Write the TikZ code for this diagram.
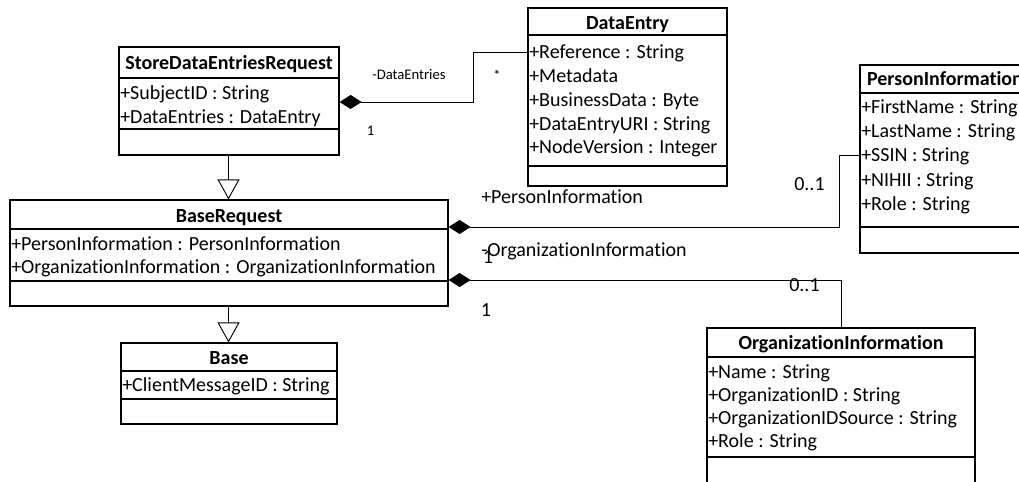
\documentclass[tikz,border=0pt]{standalone}
\usepackage{fontspec}
\setmainfont{Carlito}[Ligatures=NoCommon]
\usetikzlibrary{arrows.meta,fit}

% class box: name, left, top, right, bottom, first separator, second separator
\newcommand\umlbox[7]{%
  \node[box, fit={(#2,#3) (#4,#5)}] (#1) {};
  \draw[sep] (#1.west |- 0,#6) -- (#1.east |- 0,#6);
  \draw[sep] (#1.west |- 0,#7) -- (#1.east |- 0,#7);}

\begin{document}
\begin{tikzpicture}[x=0.75pt,y=-0.75pt,
  box/.style={draw, line width=0.9pt, inner sep=0pt},
  sep/.style={line width=0.9pt},
  txt/.style={inner sep=0pt, text height=9.5pt, text depth=0pt,
    font=\fontsize{15}{18}\selectfont},
  ttl/.style={txt, font=\fontsize{15}{18}\selectfont\bfseries},
  attr/.style={txt, anchor=west},
  small/.style={inner sep=0pt, text height=6.95pt, text depth=0pt,
    font=\fontsize{11}{13}\selectfont},
  link/.style={line width=0.7pt},
  comp/.style={link, {Diamond[length=16.5pt,width=10.5pt]}-},
  inherit/.style={link, -{Triangle[open,length=15pt,width=16.5pt]}}]

\clip (0,0) rectangle (1019,481);
\fill[white] (0,0) rectangle (1019,481);

% ---------- classes ----------
\umlbox{sder}{119}{47}{339}{155}{78}{129}
\node[ttl] (sder-t) at (sder.north |- 0,63) {StoreDataEntriesRequest};
\node[attr] (sder-a1) at (120,93) {+SubjectID : String};
\node[attr] (sder-a2) at (120,117) {+DataEntries : DataEntry};

\umlbox{de}{528}{8}{727}{186}{35}{166}
\node[ttl] (de-t) at (de.north |- 0,23.5) {DataEntry};
\node[attr] (de-ref) at (529,52.5) {+Reference : String};
\node[attr] (de-a2) at (529,76.25) {+Metadata};
\node[attr] (de-a3) at (529,100) {+BusinessData : Byte};
\node[attr] (de-a4) at (529,123.75) {+DataEntryURI : String};
\node[attr] (de-a5) at (529,147.5) {+NodeVersion : Integer};

\umlbox{pi}{860}{65}{1030}{253}{93}{227}
\node[ttl] (pi-t) at (pi.north |- 0,79.5) {PersonInformation};
\node[attr] (pi-a1) at (861,107) {+FirstName : String};
\node[attr] (pi-a2) at (861,131.25) {+LastName : String};
\node[attr] (pi-ssin) at (861,155.5) {+SSIN : String};
\node[attr] (pi-a4) at (861,179.75) {+NIHII : String};
\node[attr] (pi-a5) at (861,204) {+Role : String};

\umlbox{br}{10}{200}{448}{306}{229}{281}
\node[ttl] (br-t) at (br.north |- 0,216) {BaseRequest};
\node[attr] (br-a1) at (11,244) {+PersonInformation : PersonInformation};
\node[attr] (br-a2) at (11,267) {+OrganizationInformation : OrganizationInformation};

\umlbox{base}{121}{343}{337}{424}{371}{399}
\node[ttl] (base-t) at (base.north |- 0,358.5) {Base};
\node[attr] (base-a1) at (122,385) {+ClientMessageID : String};

\umlbox{oi}{707}{328}{975}{495}{357}{457}
\node[ttl] (oi-t) at (oi.north |- 0,343) {OrganizationInformation};
\node[attr] (oi-a1) at (708,372.5) {+Name : String};
\node[attr] (oi-a2) at (708,395.5) {+OrganizationID : String};
\node[attr] (oi-a3) at (708,418.5) {+OrganizationIDSource : String};
\node[attr] (oi-a4) at (708,441.5) {+Role : String};

% ---------- generalisations ----------
\draw[inherit] (sder.south -| 228.5,0) -- (br.north -| 228.5,0);
\draw[inherit] (br.south -| 228.5,0) -- (base.north -| 228.5,0);

% ---------- compositions ----------
\draw[comp] (sder.east |- 0,102) -- (473,102) |- (de.west |- de-ref);
\draw[comp] (br.east |- 0,227) -- (839,227) |- (pi.west |- pi-ssin);
\draw[comp] (br.east |- 0,280) -| (oi.north -| 841,0);

% ---------- association labels ----------
\node[small, anchor=west] (l-de) at (372,74.5) {-DataEntries};
\node[small] (l-star) at (497,76) {*};
\node[small] (l-one) at (370.5,131) {1};

\node[txt, anchor=west] (l-pi) at (481,197.5) {+PersonInformation};
\node[txt, anchor=west] (l-pi-m) at (794,184) {0..1};
\node[txt, anchor=west] (l-oi) at (481,250) {-OrganizationInformation};
\node[txt] (l-br-1) at (488,257.5) {1};
\node[txt, anchor=west] (l-oi-m) at (789,285.5) {0..1};
\node[txt] (l-br-2) at (486,310) {1};
\end{tikzpicture}
\end{document}
